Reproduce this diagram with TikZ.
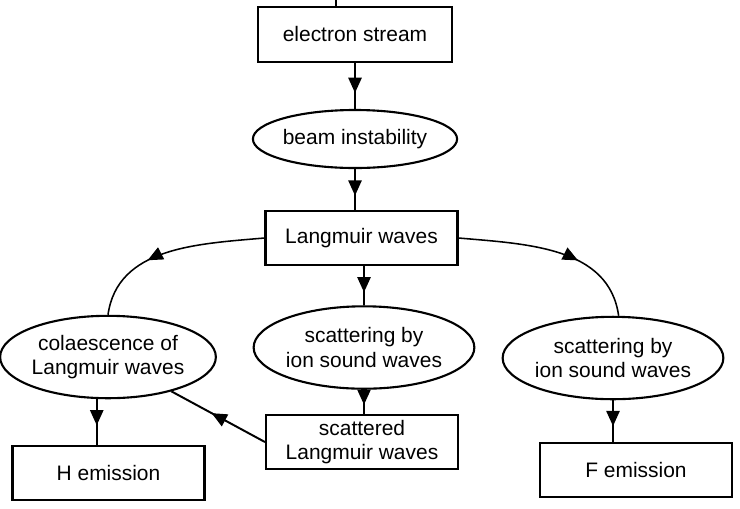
\documentclass[tikz,border=0pt]{standalone}
\usepackage{fontspec}
\setmainfont{Liberation Sans}
\usetikzlibrary{shapes.geometric,arrows.meta,decorations.markings}
\tikzset{
  box/.style={draw,line width=1.5pt,minimum width=4.8cm,minimum height=1.35cm,inner sep=0pt,align=center},
  oval/.style={draw,ellipse,line width=1.5pt,minimum width=5.18cm,minimum height=2.06cm,inner sep=0pt,align=center},
  midarrow/.style={line width=1.4pt,decoration={markings,mark=at position #1 with {\arrow{Triangle[length=0.38cm,width=0.33cm]}}},postaction={decorate}},
  midarrow/.default=0.6
}
\begin{document}
\begin{tikzpicture}[x=0.025cm,y=-0.025cm,font=\fontsize{14.9}{17.5}\selectfont]
    \useasboundingbox (0,0) rectangle (740,508);
    \node[box,minimum width=4.85cm,minimum height=1.38cm] (elec) at (355,34.5) {electron stream};
    \node[oval,minimum width=4.83cm,minimum height=1.45cm] (beam) at (355,139) {beam instability};
    \node[box] (lang) at (361.5,238) {Langmuir waves};
    \node[oval] (mid) at (364,347.5) {scattering by\\ion sound waves};
    \node[oval] (coal) at (108,357) {colaescence of\\Langmuir waves};
    \node[oval] (rscat) at (613,358) {scattering by\\ion sound waves};
    \node[box] (scat) at (362,442) {scattered\\Langmuir waves};
    \node[box] (hemi) at (108.5,473) {H emission};
    \node[box] (femi) at (636,470) {F emission};
    \coordinate (top) at (336,0);
    \draw[line width=1.4pt] (top) -- (top |- elec.north);
    \draw[midarrow=0.65] (elec) -- (beam);
    \draw[midarrow=0.65] (beam.south) -- (beam.south |- lang.north);
    \draw[midarrow=0.67] (mid.north |- lang.south) -- (mid.north);
    \draw[midarrow=0.62] (mid.south) -- (mid.south |- scat.north);
    \draw[midarrow=0.57] (scat.west) -- (coal);
    \draw[midarrow=0.57] ([xshift=-8]coal.south) -- ([xshift=-8]coal.south |- hemi.north);
    \draw[midarrow=0.62] (rscat.south) -- (rscat.south |- femi.north);
    \draw[midarrow=0.63,line width=1.1pt] (lang.west) to[out=185,in=82] (coal.north);
    \draw[midarrow=0.63,line width=1.1pt] (lang.east) to[out=-5,in=98] ([xshift=4]rscat.north);
\end{tikzpicture}
\end{document}
